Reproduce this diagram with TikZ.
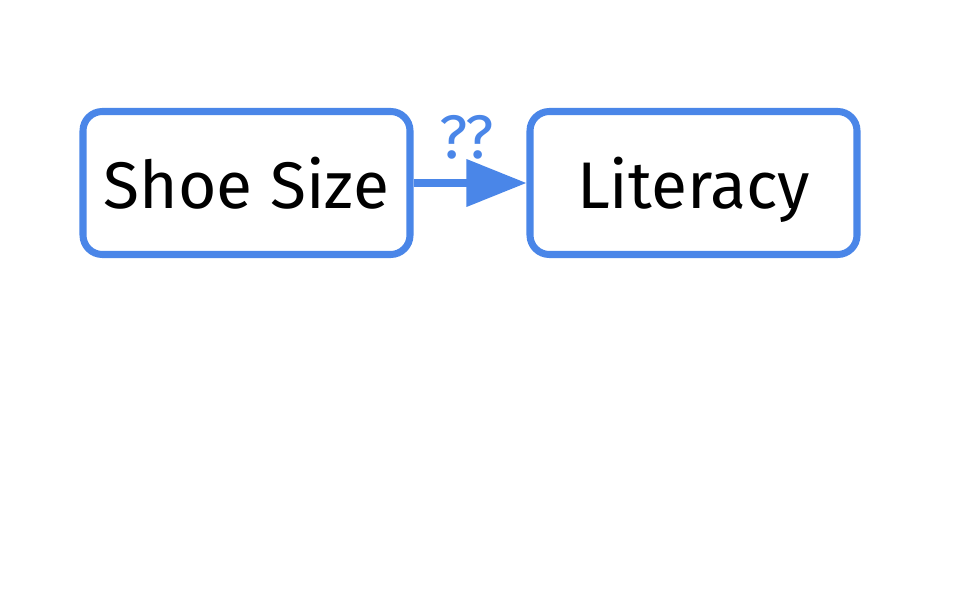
\documentclass[tikz,border=0pt]{standalone}
\usepackage{fontspec}
\setmainfont{Fira Sans}
\usepackage{tikz}
\usetikzlibrary{arrows.meta}
\definecolor{linkblue}{HTML}{4A86E8}
\tikzset{varbox/.style={draw=linkblue, line width=4pt, rounded corners=11pt,
    minimum width=6.54cm, minimum height=2.86cm, text height=1.2cm, text depth=0.2cm,
    font=\fontsize{37.5}{40}\selectfont}}

\begin{document}
\begin{tikzpicture}
            \useasboundingbox (0,0) rectangle (19.2,12);
            \node[varbox] (S) at (4.93,8.34) {Shoe Size};
            \node[varbox] (L) at (13.87,8.34) {Literacy};
            \path[-{Triangle[length=1.2cm,width=0.92cm]},color=linkblue,line width=4pt] (S) edge node[above=8pt,xshift=-2pt,font=\fontsize{35}{38}\selectfont]{??} (L);
        \end{tikzpicture}
\end{document}
